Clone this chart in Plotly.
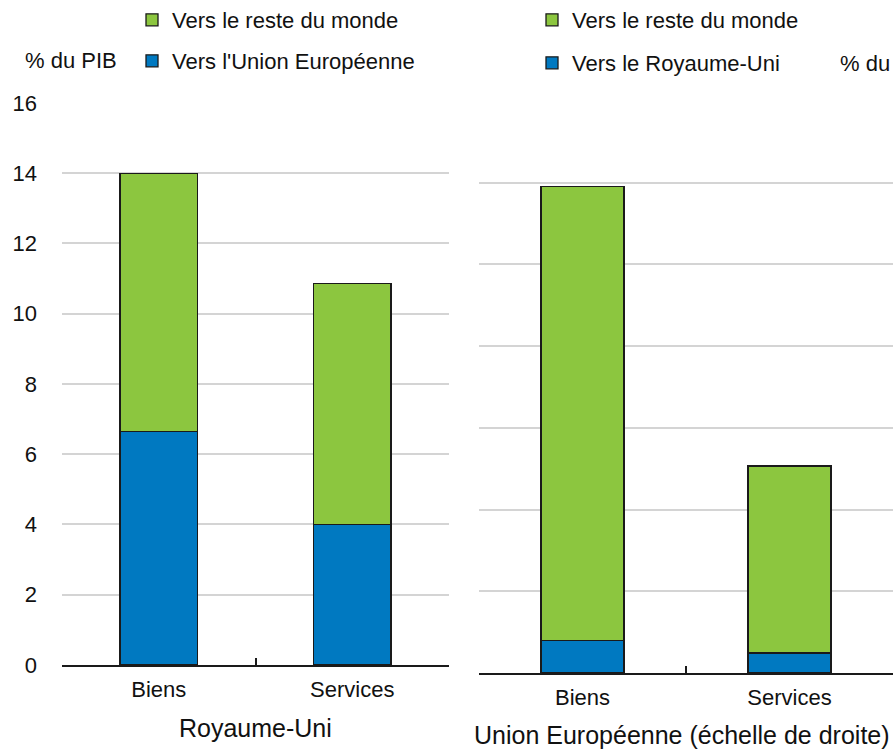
import plotly.graph_objects as go

categories = ["Biens", "Services"]
uk_to_eu = [6.65, 3.99]
uk_to_world = [7.35, 6.88]      # rest of world (stacked on top)
eu_to_uk = [0.80, 0.49]
eu_to_world = [11.10, 4.58]

left_ticks = [0, 2, 4, 6, 8, 10, 12, 14, 16]
right_ticks = [0, 2, 4, 6, 8, 10, 12, 14]

GREEN = "#8cc63f"
BLUE = "#0079c1"
FONT = "Liberation Sans, Arial, sans-serif"
W, H = 896, 754

fig = go.Figure()
line = dict(color="#1a1a1a", width=1.3)

fig.add_trace(go.Bar(x=categories, y=uk_to_eu, name="Vers l'Union Européenne",
                     marker=dict(color=BLUE, line=line), xaxis="x", yaxis="y",
                     legend="legend2", width=0.4))
fig.add_trace(go.Bar(x=categories, y=uk_to_world, name="Vers le reste du monde",
                     marker=dict(color=GREEN, line=line), xaxis="x", yaxis="y",
                     legend="legend", width=0.4))
fig.add_trace(go.Bar(x=categories, y=eu_to_uk, name="Vers le Royaume-Uni",
                     marker=dict(color=BLUE, line=line), xaxis="x2", yaxis="y2",
                     legend="legend4", width=0.4))
fig.add_trace(go.Bar(x=categories, y=eu_to_world, name="Vers le reste du monde",
                     marker=dict(color=GREEN, line=line), xaxis="x2", yaxis="y2",
                     legend="legend3", width=0.4))

def px_x(p):
    return p / W

def px_y(p):
    return 1 - p / H

axis_common = dict(showline=True, linecolor="#1a1a1a", linewidth=1.5,
                   ticks="inside", ticklen=7, tickcolor="#1a1a1a", tickwidth=1.5,
                   tickson="boundaries", showgrid=False, zeroline=False,
                   tickfont=dict(size=22, color="#111"), ticklabelstandoff=4,
                   fixedrange=True)

legend_common = dict(font=dict(size=22, color="#111", family=FONT), bgcolor="rgba(0,0,0,0)",
                     xanchor="left", yanchor="middle", itemwidth=30)

# small headroom so that the top gridline is drawn
L_TOP = 16.02
R_TOP = 14.02

fig.update_layout(
    width=W, height=H,
    margin=dict(l=0, r=0, t=0, b=0, autoexpand=False),
    paper_bgcolor="white", plot_bgcolor="white",
    font=dict(family=FONT, color="#111"),
    barmode="stack",
    xaxis=dict(domain=[px_x(62), px_x(449)], anchor="y", **axis_common),
    yaxis=dict(domain=[px_y(665), px_y(665 - 562 * L_TOP / 16)], range=[0, L_TOP],
               tickvals=left_ticks,
               showgrid=True, gridcolor="#d4d4d4", gridwidth=2, zeroline=False,
               showline=False, ticks="", tickfont=dict(size=22, color="#111"),
               ticklabelstandoff=24, fixedrange=True),
    xaxis2=dict(domain=[px_x(479), px_x(893)], anchor="y2", **axis_common),
    yaxis2=dict(domain=[px_y(673), px_y(673 - 572 * R_TOP / 14)], range=[0, R_TOP],
                tickvals=right_ticks,
                showgrid=True, gridcolor="#d4d4d4", gridwidth=2, zeroline=False,
                showline=False, ticks="", showticklabels=False, fixedrange=True),
    legend=dict(x=px_x(132), y=px_y(20), **legend_common),
    legend2=dict(x=px_x(132), y=px_y(61), **legend_common),
    legend3=dict(x=px_x(532), y=px_y(20), **legend_common),
    legend4=dict(x=px_x(532), y=px_y(63), **legend_common),
    showlegend=True,
)

annotations = [
    dict(text="% du PIB", x=px_x(71), y=px_y(61), xref="paper", yref="paper",
         xanchor="center", yanchor="middle", showarrow=False, font=dict(size=22)),
    dict(text="% du", x=px_x(838), y=px_y(64), xref="paper", yref="paper",
         xanchor="left", yanchor="middle", showarrow=False, font=dict(size=22)),
    dict(text="Royaume-Uni", x=px_x(255), y=px_y(728), xref="paper", yref="paper",
         xanchor="center", yanchor="middle", showarrow=False, font=dict(size=25)),
    dict(text="Union Européenne (échelle de droite)", x=px_x(682), y=px_y(735),
         xref="paper", yref="paper", xanchor="center", yanchor="middle",
         showarrow=False, font=dict(size=25)),
]
fig.update_layout(annotations=annotations)

fig.write_html("out.html", config={"displayModeBar": False},
               post_script="document.body.style.margin='0';document.body.style.overflow='hidden';")
